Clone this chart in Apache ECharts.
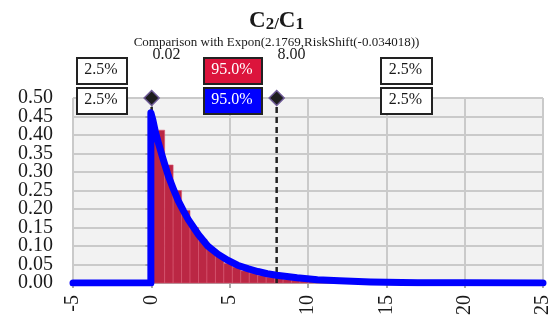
<!DOCTYPE html>
<html lang="en">
<head>
  <meta charset="UTF-8">
  <title>C2/C1</title>
</head>
<body style="margin:0">
  <div id="main" style="width: 553px;height: 318px;"></div>
</body>
<script src="https://cdn.jsdelivr.net/npm/echarts@6/dist/echarts.min.js"></script>
<script>
  // histogram bins (lower/upper edges) and bar heights
  var binEdges = [0.02, 0.85, 1.39, 1.93, 2.47, 3.01, 3.55, 4.09, 4.63, 5.17, 5.71, 6.25, 6.79, 7.33, 7.87,
    8.41, 8.95, 9.49, 10.03, 10.57, 11.11, 11.65, 12.19, 12.73, 13.27, 13.81, 14.35, 14.89, 15.43, 15.97, 16.51];
  var binHeights = [0.413, 0.319, 0.250, 0.196, 0.150, 0.118, 0.092, 0.072, 0.053, 0.043, 0.033, 0.027, 0.021, 0.016,
    0.013, 0.010, 0.008, 0.006, 0.005, 0.004, 0.003, 0.003, 0.002, 0.002, 0.002, 0.001, 0.001, 0.001, 0.001, 0.001];

  // fitted Expon curve
  var curveX = [-5, -0.03, -0.03, 0.1, 0.25, 0.44, 0.75, 1.08, 1.4, 1.72, 2.05, 2.35, 2.7, 3.0, 3.6, 4.25, 4.9,
    5.5, 6.2, 6.8, 7.4, 8.0, 9.3, 10.6, 12, 14, 17, 20, 25];
  var curveY = [0, 0, 0.46, 0.44, 0.41, 0.38, 0.335, 0.29, 0.255, 0.222, 0.195, 0.172, 0.15, 0.131, 0.100, 0.078,
    0.061, 0.048, 0.038, 0.031, 0.025, 0.021, 0.014, 0.009, 0.006, 0.003, 0.001, 0.0005, 0];

  var markerX = [0.02, 8.00];
  var pctTop = ['2.5%', '95.0%', '2.5%'];
  var pctBottom = ['2.5%', '95.0%', '2.5%'];

  var serif = 'Liberation Serif';
  var txt = '#1a1a1a';

  var chartDom = document.getElementById('main');
  var myChart = echarts.init(chartDom);
  var option;

  // percentage boxes above the plot
  function box(x, y, w, label, fill, color) {
    return [
      { type: 'rect', z: 100, left: x, top: y, shape: { x: 0, y: 0, width: w, height: 26 },
        style: { fill: fill, stroke: '#222', lineWidth: 2 } },
      { type: 'text', z: 101, x: x + w / 2, y: y + 13,
        style: { text: label, fill: color, font: '16px "' + serif + '"', align: 'center', verticalAlign: 'middle' } }
    ];
  }
  var boxX = [76, 203, 380];
  var boxW = [50, 58, 51];
  var graphics = [];
  for (var i = 0; i < 3; i++) {
    graphics = graphics.concat(box(boxX[i], 57, boxW[i], pctTop[i], i == 1 ? '#dc143c' : '#fff', i == 1 ? '#fff' : txt));
    graphics = graphics.concat(box(boxX[i], 87, boxW[i], pctBottom[i], i == 1 ? '#0000ff' : '#fff', i == 1 ? '#fff' : txt));
  }

  var bars = [];
  for (var i = 0; i < binHeights.length; i++) {
    bars.push([binEdges[i], binEdges[i + 1], binHeights[i]]);
  }
  var curve = curveX.map(function (x, i) { return [x, curveY[i]]; });

  var series = [
    {
      type: 'custom',
      z: 2,
      data: bars,
      encode: { x: [0, 1], y: 2 },
      renderItem: function (params, api) {
        var p1 = api.coord([api.value(0), api.value(2)]);
        var p2 = api.coord([api.value(1), 0]);
        return {
          type: 'rect',
          shape: { x: p1[0], y: p1[1], width: p2[0] - p1[0], height: p2[1] - p1[1] },
          style: { fill: '#bb2744', stroke: '#d9566f', lineWidth: 0.6 }
        };
      }
    }
  ];
  markerX.forEach(function (m) {
    series.push({
      type: 'line', z: 3, symbol: 'none', silent: true,
      data: [[m, 0], [m, 0.5]],
      lineStyle: { color: '#222', width: 2.5, type: [6, 4] }
    });
  });
  series.push({
    type: 'line', z: 4, symbol: 'none', smooth: false,
    data: curve,
    lineStyle: { color: '#0000ff', width: 7, cap: 'round', join: 'round' }
  });
  series.push({
    type: 'scatter', z: 5, clip: false,
    symbol: 'diamond', symbolSize: [15, 15],
    itemStyle: { color: '#1e1e1e', borderColor: '#6e5a96', borderWidth: 1.5, opacity: 1 },
    data: markerX.map(function (m) { return [m, 0.5]; }),
    label: {
      show: true, position: [9, -35], align: 'left', verticalAlign: 'middle',
      fontFamily: serif, fontSize: 16, color: txt,
      formatter: function (p) { return p.value[0].toFixed(2); }
    }
  });

  var yLabel = {
    margin: 20, fontFamily: serif, fontSize: 20, color: txt,
    formatter: function (v) { return v.toFixed(2); }
  };

  option = {
    animation: false,
    title: [
      {
        text: '{b|C}{n|2}{n|/}{b|C}{n|1}',
        left: 'center', top: 5,
        textStyle: {
          rich: {
            b: { fontFamily: serif, fontSize: 23, fontWeight: 'bold', color: txt, verticalAlign: 'bottom', lineHeight: 23 },
            n: { fontFamily: serif, fontSize: 17, color: txt, verticalAlign: 'bottom', lineHeight: 20 }
          }
        }
      },
      {
        text: 'Comparison with Expon(2.1769,RiskShift(-0.034018))',
        left: 'center', top: 31,
        textStyle: { fontFamily: serif, fontSize: 13, fontWeight: 'normal', color: txt }
      }
    ],
    grid: {
      left: 73, right: 8, top: 98, bottom: 34,
      show: true, backgroundColor: '#f2f2f2', borderWidth: 0
    },
    xAxis: {
      type: 'value', min: -5, max: 25, interval: 5,
      axisLine: { show: true, lineStyle: { color: '#aaa', width: 2 } },
      axisTick: { show: true, length: 5, lineStyle: { color: '#aaa', width: 2 } },
      splitLine: { show: true, lineStyle: { color: '#cacaca', width: 2 } },
      axisLabel: { rotate: 90, margin: 12, fontFamily: serif, fontSize: 20, color: txt,
        showMinLabel: true, showMaxLabel: true, hideOverlap: false }
    },
    yAxis: [
      {
        type: 'value', min: 0, max: 0.5, interval: 0.05,
        axisLine: { show: true, lineStyle: { color: '#aaa', width: 2 } },
        axisTick: { show: true, length: 6, lineStyle: { color: '#aaa', width: 2 } },
        splitLine: { show: true, lineStyle: { color: '#cacaca', width: 2 } },
        axisLabel: Object.assign({ showMinLabel: false, showMaxLabel: false }, yLabel)
      },
      {
        // second copy only for the 0.00 and 0.50 labels, which overlap-hiding drops
        type: 'value', min: 0, max: 0.5, interval: 0.5, position: 'left',
        axisLine: { show: false }, axisTick: { show: false }, splitLine: { show: false },
        axisLabel: Object.assign({ showMinLabel: true, showMaxLabel: true }, yLabel)
      }
    ],
    graphic: graphics,
    series: series
  };

  option && myChart.setOption(option);
</script>
</html>
